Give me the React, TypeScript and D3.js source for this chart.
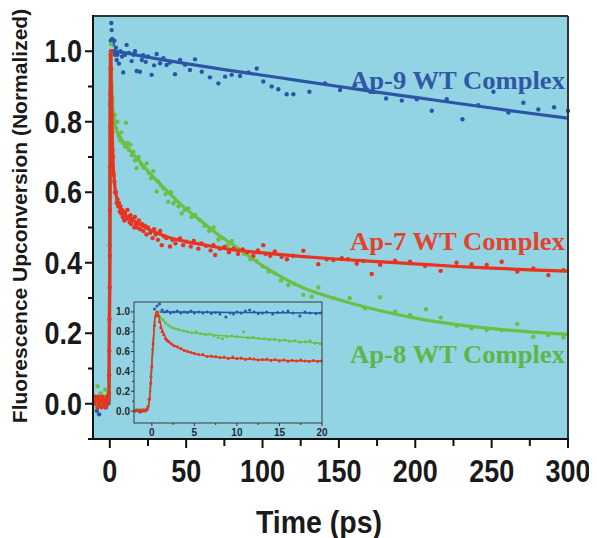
import React from "react";
import * as d3 from "d3";

type Pt = [number, number];

// ---------- main panel: 0–300 ps ----------
const xTicksMain = [0, 50, 100, 150, 200, 250, 300];
const xMinorMain = [25, 75, 125, 175, 225, 275];
const yTicksMain = [0, 0.2, 0.4, 0.6, 0.8, 1.0];
const yMinorMain = [-0.1, 0.1, 0.3, 0.5, 0.7, 0.9];

const ap9Points: Pt[] = [
  [-10, 0.01], [-8.5, -0.02], [-7, -0.03], [-5.5, 0.0], [-4, 0.01], [-2.5, -0.01], [-1, 0.02],
  [0.0, 0.45], [0.3, 0.85], [0.6, 1.03], [1.0, 1.08], [1.2, 1.06], [1.5, 1.035], [2, 1.02],
  [2.5, 1.0], [3, 1.03], [3.4, 0.99], [4, 1.01], [4.5, 0.975], [5, 0.99], [6, 0.965], [7, 1.0],
  [8, 0.985], [8.8, 0.94], [10, 0.99], [11, 1.018], [12.5, 0.995], [14.3, 0.972], [15.5, 0.99],
  [16.5, 1.0], [17.6, 0.944], [19.7, 0.942], [21, 0.975], [21.9, 0.989], [23.5, 0.97], [25, 0.985],
  [27.4, 0.933], [29, 0.96], [30.7, 0.992], [32.9, 0.966], [35.1, 0.98], [37.2, 0.961], [39.4, 0.968],
  [42.7, 0.935], [46, 0.975], [49.2, 0.962], [52.5, 0.947], [55.8, 0.977], [60.2, 0.942], [65.6, 0.926],
  [71.1, 0.909], [75.5, 0.928], [79.8, 0.933], [85.3, 0.93], [90.8, 0.94], [96.2, 0.951], [100.5, 0.914],
  [106, 0.9], [110.3, 0.892], [115.8, 0.878], [120.2, 0.878], [130.7, 0.885], [141, 0.909], [150.8, 0.89],
  [160.6, 0.904], [170.5, 0.885], [180.9, 0.866], [191.2, 0.86], [201, 0.864], [210.8, 0.831], [220.6, 0.864],
  [230.9, 0.807], [241.3, 0.847], [251.2, 0.885], [261, 0.826], [270.8, 0.854], [280.6, 0.835], [290.9, 0.841],
  [300, 0.831],
];

const ap9Fit: Pt[] = [
  [-11, 0.0], [-0.5, 0.0], [0, 0.5], [0.5, 1.0], [1, 1.0], [25, 0.983], [50, 0.965], [75, 0.948],
  [100, 0.932], [125, 0.916], [150, 0.9], [175, 0.884], [200, 0.869], [225, 0.854], [250, 0.839],
  [275, 0.824], [300, 0.81],
];

const ap7Points: Pt[] = [
  [-10, 0.0], [-9.5, 0.02], [-9, 0.01], [-8, -0.01], [-7.5, 0.02], [-7, 0.0], [-6, 0.01], [-5.5, -0.01],
  [-5, 0.02], [-4, 0.0], [-3.5, 0.01], [-3, -0.01], [-2, 0.02], [-1.5, 0.0], [-1, 0.01], [-0.6, 0.03],
  [-0.4, 0.08], [-0.3, 0.15], [-0.2, 0.24], [-0.1, 0.33], [0, 0.42], [0.1, 0.55], [0.2, 0.67], [0.3, 0.79],
  [0.4, 0.88], [0.5, 0.95], [0.6, 0.99], [0.7, 1.0], [0.9, 0.95], [1.1, 0.87], [1.3, 0.82], [1.5, 0.77],
  [1.8, 0.72], [2.1, 0.7], [2.5, 0.65], [3, 0.63], [3.5, 0.6], [4, 0.6], [4.5, 0.57], [5, 0.58], [5.5, 0.56],
  [6, 0.57], [6.5, 0.545], [7, 0.56], [7.5, 0.54], [8, 0.55], [8.5, 0.53], [9, 0.545], [9.5, 0.52], [10, 0.54],
  [11, 0.525], [11.5, 0.55], [12, 0.53], [13, 0.515], [13.5, 0.535], [14, 0.51], [15, 0.525], [16, 0.5],
  [16.5, 0.53], [17, 0.51], [18, 0.5], [19, 0.52], [20, 0.495], [21, 0.51], [22, 0.49], [23, 0.505],
  [24, 0.48], [25, 0.5], [26.5, 0.485], [28, 0.47], [29, 0.495], [30, 0.48], [31.5, 0.465], [33, 0.49],
  [34, 0.45], [35.5, 0.475], [37, 0.47], [39.4, 0.446], [41, 0.465], [43, 0.455], [46, 0.469], [48, 0.45],
  [50, 0.46], [53, 0.446], [55, 0.462], [58, 0.44], [60, 0.455], [63, 0.448], [66, 0.435], [67.8, 0.45],
  [69, 0.422], [72, 0.44], [75, 0.445], [78, 0.43], [81, 0.44], [84, 0.425], [87, 0.438], [90, 0.43],
  [94, 0.42], [97, 0.435], [100.5, 0.45], [102, 0.425], [105, 0.42], [108, 0.432], [112.5, 0.417],
  [116, 0.41], [120, 0.42], [126.7, 0.434], [136.5, 0.396], [142, 0.41], [146.4, 0.408], [151.9, 0.413],
  [156, 0.41], [161.7, 0.398], [166, 0.405], [171.5, 0.368], [177, 0.394], [186.8, 0.406], [196.6, 0.403],
  [206.4, 0.391], [216.6, 0.377], [227, 0.4], [236.9, 0.396], [246.8, 0.394], [256.6, 0.403], [266.8, 0.375],
  [277.3, 0.384], [287.1, 0.365], [297, 0.379],
];

const ap7Fit: Pt[] = [
  [-11, 0.01], [-1, 0.01], [-0.5, 0.03], [0, 0.4], [0.3, 0.8], [0.6, 1.0], [0.9, 0.93], [1.2, 0.84],
  [1.6, 0.76], [2, 0.7], [3, 0.63], [4, 0.595], [5, 0.575], [6.5, 0.556], [8, 0.545], [10, 0.535],
  [12, 0.528], [15, 0.52], [20, 0.508], [26, 0.494], [32, 0.483], [40, 0.47], [50, 0.46], [60, 0.452],
  [80, 0.437], [100, 0.428], [125, 0.418], [150, 0.41], [175, 0.403], [200, 0.397], [225, 0.39],
  [250, 0.385], [275, 0.38], [300, 0.376],
];

const ap8Points: Pt[] = [
  [-10, 0.02], [-9, 0.0], [-8, 0.05], [-7, 0.01], [-6, 0.03], [-5, 0.0], [-4, 0.02], [-3, 0.04], [-2, 0.01],
  [-1, 0.03], [0, 0.4], [0.3, 0.8], [0.6, 0.98], [0.8, 1.02], [1.2, 0.9], [1.8, 0.86], [2.3, 0.82],
  [3.4, 0.819], [4.2, 0.78], [5, 0.8], [5.8, 0.76], [6.7, 0.748], [7.5, 0.77], [8.5, 0.74], [9.9, 0.729],
  [10.6, 0.797], [11.5, 0.74], [12.5, 0.72], [13.5, 0.735], [14.5, 0.705], [15.5, 0.715], [16.5, 0.69],
  [17.6, 0.668], [19, 0.7], [20.5, 0.68], [22, 0.67], [24.1, 0.682], [25.5, 0.655], [27, 0.64], [28.5, 0.66],
  [30.7, 0.602], [31.8, 0.63], [33.5, 0.62], [35, 0.61], [36.5, 0.595], [38.3, 0.573], [40, 0.6],
  [41.6, 0.568], [43, 0.575], [45, 0.56], [47.1, 0.54], [49, 0.55], [51.4, 0.554], [53.5, 0.53], [56, 0.535],
  [59, 0.521], [62, 0.505], [65, 0.49], [68, 0.5], [71.1, 0.466], [74, 0.47], [77, 0.45], [80, 0.462],
  [84, 0.435], [88, 0.425], [92, 0.41], [96, 0.405], [100, 0.39], [104, 0.375], [108, 0.37], [112, 0.35],
  [116.9, 0.337], [121, 0.34], [126.7, 0.309], [132.2, 0.304], [136.5, 0.33], [146.4, 0.3], [157, 0.3],
  [167.1, 0.271], [177, 0.302], [186.8, 0.261], [196.6, 0.252], [207, 0.268], [216.6, 0.245], [227, 0.221],
  [236.9, 0.214], [246.8, 0.209], [256.6, 0.209], [266.8, 0.226], [277.3, 0.19], [287.1, 0.195], [297, 0.188],
];

const ap8Fit: Pt[] = [
  [-11, 0.01], [-1, 0.01], [-0.5, 0.03], [0, 0.4], [0.3, 0.8], [0.6, 1.0], [1, 0.93], [1.5, 0.87],
  [2, 0.84], [3, 0.8], [5, 0.77], [7, 0.755], [10, 0.735], [15, 0.71], [20, 0.685], [26, 0.655],
  [37, 0.606], [48, 0.56], [59, 0.521], [70, 0.483], [81, 0.45], [100, 0.392], [125, 0.332], [150, 0.295],
  [175, 0.266], [200, 0.243], [225, 0.226], [250, 0.213], [275, 0.204], [300, 0.197],
];

// ---------- inset: first 20 ps ----------
const xTicksInset = [0, 5, 10, 15, 20];
const xMinorInset = [2.5, 7.5, 12.5, 17.5];
const yTicksInset = [0, 0.2, 0.4, 0.6, 0.8, 1.0];
const yMinorInset = [0.1, 0.3, 0.5, 0.7, 0.9];

const ap9InsetPoints: Pt[] = [
  [-2, 0.0], [-1.7, 0.01], [-1.4, -0.01], [-1.1, 0.0], [-0.8, 0.01], [-0.5, 0.02], [-0.3, 0.12], [-0.1, 0.35],
  [0.1, 0.62], [0.3, 1.03], [0.6, 1.06], [0.9, 1.08], [1.2, 1.02], [1.5, 1.0], [1.8, 1.01], [2.2, 0.99],
  [2.6, 1.0], [3, 1.01], [3.4, 0.99], [3.8, 1.0], [4.2, 0.995], [4.6, 1.01], [5, 0.99], [5.5, 1.0], [6, 0.99],
  [6.5, 1.0], [7, 0.985], [7.5, 0.995], [8, 0.98], [8.7, 0.95], [9.2, 0.99], [9.6, 0.98], [10, 1.0],
  [10.5, 0.99], [11, 1.01], [11.5, 1.02], [12, 1.0], [12.5, 0.985], [13, 0.99], [13.5, 1.0], [14.2, 0.98],
  [14.8, 0.995], [15.4, 1.0], [16, 1.01], [16.6, 0.99], [17.4, 0.96], [18, 1.0], [18.6, 0.99], [19.3, 0.985],
  [19.8, 0.99],
];
const ap9InsetFit: Pt[] = [
  [-2, 0], [-0.6, 0.0], [-0.2, 0.2], [0.1, 0.6], [0.4, 0.95], [0.7, 1.0], [5, 1.0], [10, 0.995],
  [15, 0.992], [20, 0.99],
];

const ap8InsetPoints: Pt[] = [
  [-2, 0.01], [-1.6, 0.0], [-1.2, 0.02], [-0.8, 0.01], [-0.5, 0.03], [-0.2, 0.2], [0.1, 0.62], [0.35, 0.9],
  [0.6, 0.97], [0.8, 1.0], [1.0, 0.94], [1.3, 0.92], [1.6, 0.89], [2.0, 0.86], [2.4, 0.84], [2.8, 0.83],
  [3.2, 0.82], [3.7, 0.81], [4.2, 0.8], [4.7, 0.79], [5.2, 0.8], [5.7, 0.78], [6.3, 0.77], [6.8, 0.78],
  [7.3, 0.76], [7.8, 0.74], [8.3, 0.73], [8.8, 0.75], [9.4, 0.76], [10, 0.75], [10.8, 0.8], [11.3, 0.74],
  [11.9, 0.745], [12.5, 0.735], [13.2, 0.73], [13.8, 0.72], [14.4, 0.725], [15, 0.71], [15.6, 0.72],
  [16.2, 0.705], [16.8, 0.71], [17.4, 0.695], [18, 0.7], [18.6, 0.71], [19.2, 0.685], [19.8, 0.68],
];
const ap8InsetFit: Pt[] = [
  [-2, 0], [-0.6, 0.01], [-0.2, 0.2], [0.1, 0.6], [0.4, 0.93], [0.65, 1.0], [1, 0.95], [1.5, 0.9],
  [2.1, 0.855], [3, 0.825], [4.4, 0.795], [6, 0.778], [8, 0.763], [10.3, 0.748], [12.5, 0.733],
  [15, 0.716], [17.5, 0.7], [20, 0.684],
];

const ap7InsetPoints: Pt[] = [
  [-2, 0.0], [-1.8, 0.01], [-1.6, 0.0], [-1.4, 0.01], [-1.2, -0.005], [-1.0, 0.01], [-0.8, 0.0], [-0.6, 0.02],
  [-0.45, 0.05], [-0.3, 0.12], [-0.15, 0.28], [0.0, 0.45], [0.15, 0.68], [0.3, 0.86], [0.45, 0.96], [0.6, 1.0],
  [0.75, 0.96], [0.9, 0.9], [1.05, 0.84], [1.2, 0.8], [1.4, 0.77], [1.6, 0.73], [1.8, 0.71], [2.0, 0.7],
  [2.3, 0.68], [2.6, 0.66], [3.0, 0.65], [3.4, 0.63], [3.8, 0.61], [4.2, 0.6], [4.6, 0.59], [5.0, 0.58],
  [5.5, 0.57], [6.0, 0.57], [6.5, 0.55], [7.0, 0.555], [7.5, 0.55], [8.0, 0.54], [8.5, 0.545], [9.0, 0.53],
  [9.5, 0.545], [10.0, 0.53], [10.5, 0.535], [11.0, 0.52], [11.5, 0.53], [12.0, 0.525], [12.5, 0.515],
  [13.0, 0.52], [13.5, 0.525], [14.0, 0.51], [14.5, 0.52], [15.0, 0.505], [15.5, 0.515], [16.0, 0.5],
  [16.5, 0.51], [17.0, 0.505], [17.5, 0.515], [18.0, 0.505], [18.5, 0.5], [19.0, 0.51], [19.5, 0.5],
  [19.9, 0.505],
];
const ap7InsetFit: Pt[] = [
  [-2, 0.0], [-0.6, 0.01], [-0.3, 0.1], [-0.1, 0.35], [0.1, 0.62], [0.3, 0.88], [0.5, 1.0], [0.7, 0.98],
  [0.9, 0.92], [1.1, 0.85], [1.4, 0.78], [1.7, 0.732], [2.2, 0.68], [2.9, 0.648], [3.6, 0.62], [4.4, 0.597],
  [5.4, 0.572], [6.4, 0.556], [8, 0.54], [10.3, 0.53], [12, 0.52], [14.2, 0.514], [17, 0.508], [20, 0.504],
];

const seriesNames = ["Ap-9 WT Complex", "Ap-7 WT Complex", "Ap-8 WT Complex"];

const BG = "#93d4e4";
const BLUE = "#2b56a6";
const RED = "#e8331f";
const GREEN = "#6cbf44";
const SANS = "'Liberation Sans', Arial, Helvetica, sans-serif";
const SERIF = "'Liberation Serif', 'Times New Roman', serif";

export default function App() {
  const W = 597;
  const H = 538;
  const m = { left: 93, right: 568, top: 16, bottom: 439 };

  const x = d3.scaleLinear().domain([-11, 300]).range([m.left, m.right]);
  const y = d3.scaleLinear().domain([-0.1, 1.1]).range([m.bottom, m.top]);

  const inset = { left: 134, right: 322, top: 302, bottom: 423 };
  const xi = d3.scaleLinear().domain([-2.1, 20]).range([inset.left, inset.right]);
  const yi = d3.scaleLinear().domain([-0.12, 1.1]).range([inset.bottom, inset.top]);

  const lineMain = d3
    .line<Pt>()
    .x((d) => x(d[0]))
    .y((d) => y(d[1]))
    .curve(d3.curveMonotoneX);
  const lineInset = d3
    .line<Pt>()
    .x((d) => xi(d[0]))
    .y((d) => yi(d[1]))
    .curve(d3.curveMonotoneX);

  const fmt = d3.format(".1f");

  const mainSeries = [
    { pts: ap9Points, fit: ap9Fit, color: BLUE },
    { pts: ap8Points, fit: ap8Fit, color: GREEN },
    { pts: ap7Points, fit: ap7Fit, color: RED },
  ];
  const insetSeries = [
    { pts: ap9InsetPoints, fit: ap9InsetFit, color: BLUE },
    { pts: ap8InsetPoints, fit: ap8InsetFit, color: GREEN },
    { pts: ap7InsetPoints, fit: ap7InsetFit, color: RED },
  ];

  const labels = [
    { text: seriesNames[0], color: "#2f58a6", y: 89 },
    { text: seriesNames[1], color: "#e2432a", y: 250 },
    { text: seriesNames[2], color: "#5db746", y: 363 },
  ];

  return (
    <svg width={W} height={H} style={{ display: "block", background: "#fff", marginLeft: -8, marginTop: -8 }}>
      <defs>
        <clipPath id="mainClip">
          <rect x={m.left} y={m.top} width={m.right - m.left + 2} height={m.bottom - m.top} />
        </clipPath>
      </defs>

      {/* plot background */}
      <rect x={m.left} y={m.top} width={m.right - m.left} height={m.bottom - m.top} fill={BG} />

      {/* main data */}
      <g clipPath="url(#mainClip)">
        {mainSeries.map((s, i) => (
          <g key={i}>
            {s.pts.map((p, j) => (
              <circle key={j} cx={x(p[0])} cy={y(p[1])} r={2.2} fill={s.color} />
            ))}
            <path d={lineMain(s.fit) || ""} fill="none" stroke={s.color} strokeWidth={3.2} strokeLinejoin="round" />
          </g>
        ))}
      </g>

      {/* series labels */}
      {labels.map((l, i) => (
        <text
          key={i}
          x={350}
          y={l.y}
          fill={l.color}
          fontFamily={SERIF}
          fontWeight="bold"
          fontSize={25}
          textLength={215}
          lengthAdjust="spacingAndGlyphs"
        >
          {l.text}
        </text>
      ))}

      {/* frame */}
      <line x1={m.left} x2={m.right} y1={m.top} y2={m.top} stroke="#333" strokeWidth={2} />
      <line x1={m.right} x2={m.right} y1={m.top} y2={m.bottom} stroke="#333" strokeWidth={2} />
      <line x1={m.left} x2={m.left} y1={m.top - 1} y2={m.bottom + 1} stroke="#111" strokeWidth={2} />
      <line x1={m.left - 1} x2={m.right + 1} y1={m.bottom} y2={m.bottom} stroke="#111" strokeWidth={2} />

      {/* main y axis */}
      {yTicksMain.map((t) => (
        <g key={"ym" + t}>
          <line x1={m.left - 8} x2={m.left} y1={y(t)} y2={y(t)} stroke="#111" strokeWidth={2} />
          <text
            transform={`translate(82,${y(t) + 11}) scale(0.87,1)`}
            textAnchor="end"
            fontFamily={SANS}
            fontWeight="bold"
            fontSize={31}
            fill="#1a1a1a"
          >
            {fmt(t)}
          </text>
        </g>
      ))}
      {yMinorMain.map((t) => (
        <line key={"ymn" + t} x1={m.left - 5} x2={m.left} y1={y(t)} y2={y(t)} stroke="#111" strokeWidth={2} />
      ))}

      {/* main x axis */}
      {xTicksMain.map((t) => (
        <g key={"xm" + t}>
          <line x1={x(t)} x2={x(t)} y1={m.bottom} y2={m.bottom + 9} stroke="#111" strokeWidth={2} />
          <text
            transform={`translate(${x(t)},482) scale(0.87,1)`}
            textAnchor="middle"
            fontFamily={SANS}
            fontWeight="bold"
            fontSize={31}
            fill="#1a1a1a"
          >
            {t}
          </text>
        </g>
      ))}
      {xMinorMain.map((t) => (
        <line key={"xmn" + t} x1={x(t)} x2={x(t)} y1={m.bottom} y2={m.bottom + 7} stroke="#111" strokeWidth={2} />
      ))}

      {/* axis titles */}
      <text
        transform="translate(319,533) scale(0.92,1)"
        textAnchor="middle"
        fontFamily={SANS}
        fontWeight="bold"
        fontSize={31}
        fill="#1a1a1a"
      >
        Time (ps)
      </text>
      <text
        transform="translate(27,216) rotate(-90)"
        textAnchor="middle"
        fontFamily={SANS}
        fontWeight="bold"
        fontSize={21}
        fill="#1a1a1a"
      >
        Fluorescence Upconversion (Normalized)
      </text>

      {/* inset */}
      <g>
        <rect
          x={inset.left}
          y={inset.top}
          width={inset.right - inset.left}
          height={inset.bottom - inset.top}
          fill={BG}
        />
        {insetSeries.map((s, i) => (
          <g key={i}>
            {s.pts.map((p, j) => (
              <circle key={j} cx={xi(p[0])} cy={yi(p[1])} r={1.5} fill={s.color} />
            ))}
            <path d={lineInset(s.fit) || ""} fill="none" stroke={s.color} strokeWidth={1.5} />
          </g>
        ))}
        <rect
          x={inset.left}
          y={inset.top}
          width={inset.right - inset.left}
          height={inset.bottom - inset.top}
          fill="none"
          stroke="#3a3a3a"
          strokeWidth={1}
        />
        {yTicksInset.map((t) => (
          <g key={"yi" + t}>
            <line x1={inset.left - 3} x2={inset.left} y1={yi(t)} y2={yi(t)} stroke="#333" strokeWidth={1} />
            <text
              x={inset.left - 4}
              y={yi(t) + 3.5}
              textAnchor="end"
              fontFamily={SANS}
              fontWeight="bold"
              fontSize={10}
              fill="#2a2a2a"
            >
              {fmt(t)}
            </text>
          </g>
        ))}
        {yMinorInset.map((t) => (
          <line key={"yin" + t} x1={inset.left - 2} x2={inset.left} y1={yi(t)} y2={yi(t)} stroke="#333" strokeWidth={1} />
        ))}
        {xTicksInset.map((t) => (
          <g key={"xi" + t}>
            <line x1={xi(t)} x2={xi(t)} y1={inset.bottom} y2={inset.bottom + 3} stroke="#333" strokeWidth={1} />
            <text
              x={xi(t)}
              y={inset.bottom + 13}
              textAnchor="middle"
              fontFamily={SANS}
              fontWeight="bold"
              fontSize={10}
              fill="#2a2a2a"
            >
              {t}
            </text>
          </g>
        ))}
        {xMinorInset.map((t) => (
          <line key={"xin" + t} x1={xi(t)} x2={xi(t)} y1={inset.bottom} y2={inset.bottom + 2} stroke="#333" strokeWidth={1} />
        ))}
      </g>
    </svg>
  );
}
